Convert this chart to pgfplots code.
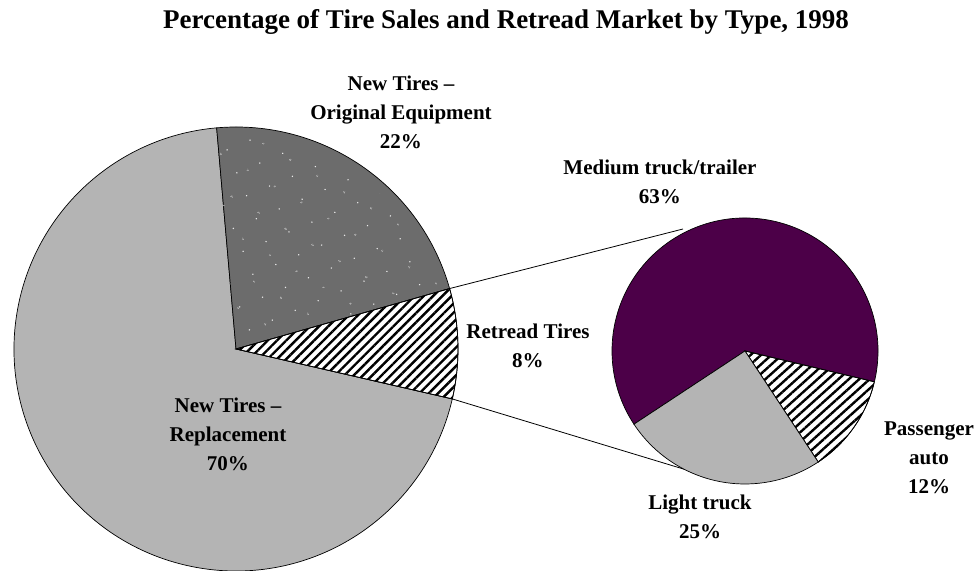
\documentclass[border=0pt]{standalone}
\usepackage{pgfplots}
\pgfplotsset{compat=1.18}
\usepackage{pgfplotstable}
\usetikzlibrary{patterns.meta}
\usepackage{fontspec}
\setmainfont{Liberation Serif}

\definecolor{lgray}{RGB}{180,180,180}
\definecolor{dgray}{RGB}{108,108,108}
\definecolor{purp}{RGB}{76,0,72}

\pgfplotstableread{
name pct
OE 22
Retread 8
Replacement 70
}\tiresales
\pgfplotstableread{
name pct
Medium 63
Passenger 12
Light 25
}\retreadmkt

\begin{document}
\begin{tikzpicture}
\pgfplotstablegetelem{0}{pct}\of\tiresales \let\pOE\pgfplotsretval
\pgfplotstablegetelem{1}{pct}\of\tiresales \let\pRet\pgfplotsretval
\pgfplotstablegetelem{2}{pct}\of\tiresales \let\pRep\pgfplotsretval
\pgfplotstablegetelem{0}{pct}\of\retreadmkt \let\pMed\pgfplotsretval
\pgfplotstablegetelem{1}{pct}\of\retreadmkt \let\pPas\pgfplotsretval
\pgfplotstablegetelem{2}{pct}\of\retreadmkt \let\pLig\pgfplotsretval
% left pie angles (clockwise from the top)
\pgfmathsetmacro\aA{95}
\pgfmathsetmacro\aB{\aA-3.6*\pOE}
\pgfmathsetmacro\aC{\aB-3.6*\pRet}
\pgfmathsetmacro\aD{\aC-3.6*\pRep}
% right pie angles
\pgfmathsetmacro\bA{-13.4}
\pgfmathsetmacro\bB{\bA+3.6*\pMed}
\pgfmathsetmacro\bC{\bA-3.6*\pPas}
\pgfmathsetmacro\bD{\bC-3.6*\pLig}
\begin{axis}[
  width=980bp, height=571bp, scale only axis,
  xmin=0, xmax=980, ymin=0, ymax=571,
  enlargelimits=false, hide axis, clip=false,
]
% ---- left pie
\filldraw[fill=lgray, draw=black, line width=0.7pt]
  (axis cs:236,222) -- ++(\aC:222bp) arc[start angle=\aC, end angle=\aD, radius=222bp] -- cycle;
\filldraw[fill=dgray, draw=black, line width=0.7pt]
  (axis cs:236,222) -- ++(\aA:222bp) arc[start angle=\aA, end angle=\aB, radius=222bp] -- cycle;
\path[pattern={Dots[distance=25pt, radius=0.8pt, angle=23]}, pattern color=white!85!dgray]
  (axis cs:236,222) -- ++(\aA:212bp) arc[start angle=\aA, end angle=\aB, radius=212bp] -- cycle;
\path[pattern={Dots[distance=31pt, radius=0.8pt, angle=-31, xshift=9pt, yshift=5pt]}, pattern color=white!85!dgray]
  (axis cs:236,222) -- ++(\aA:212bp) arc[start angle=\aA, end angle=\aB, radius=212bp] -- cycle;
\filldraw[fill=white, draw=black, line width=0.7pt]
  (axis cs:236,222) -- ++(\aB:222bp) arc[start angle=\aB, end angle=\aC, radius=222bp] -- cycle;
\path[pattern={Lines[angle=45, distance=6.6pt, line width=2.4pt]}, pattern color=black]
  (axis cs:236,222) -- ++(\aB:222bp) arc[start angle=\aB, end angle=\aC, radius=222bp] -- cycle;
\draw[black, line width=0.7pt]
  (axis cs:236,222) -- ++(\aB:222bp) arc[start angle=\aB, end angle=\aC, radius=222bp] -- cycle;
% ---- connecting lines
\draw[black, line width=0.8pt] (axis cs:236,222) ++(\aB:222bp) -- (axis cs:683,342);
\draw[black, line width=0.8pt] (axis cs:236,222) ++(\aC:222bp) -- (axis cs:690,100);
% ---- right pie
\filldraw[fill=purp, draw=black, line width=0.7pt]
  (axis cs:745,220) -- ++(\bA:133bp) arc[start angle=\bA, end angle=\bB, radius=133bp] -- cycle;
\filldraw[fill=white, draw=black, line width=0.7pt]
  (axis cs:745,220) -- ++(\bA:133bp) arc[start angle=\bA, end angle=\bC, radius=133bp] -- cycle;
\path[pattern={Lines[angle=42, distance=7pt, line width=2.4pt]}, pattern color=black]
  (axis cs:745,220) -- ++(\bA:133bp) arc[start angle=\bA, end angle=\bC, radius=133bp] -- cycle;
\draw[black, line width=0.7pt]
  (axis cs:745,220) -- ++(\bA:133bp) arc[start angle=\bA, end angle=\bC, radius=133bp] -- cycle;
\filldraw[fill=lgray, draw=black, line width=0.7pt]
  (axis cs:745,220) -- ++(\bC:133bp) arc[start angle=\bC, end angle=\bD, radius=133bp] -- cycle;
% ---- labels
\tikzset{lbl/.style={align=center, inner sep=0pt, font=\fontsize{21bp}{29bp}\selectfont\bfseries}}
\node[font=\fontsize{27bp}{30bp}\selectfont\bfseries, inner sep=0pt] at (axis cs:506,549)
  {Percentage of Tire Sales and Retread Market by Type, 1998};
\node[lbl] at (axis cs:401,459) {New Tires --\\Original Equipment\\22\%};
\node[lbl] at (axis cs:660,389.5) {Medium truck/trailer\\63\%};
\node[lbl] at (axis cs:528,225.5) {Retread Tires\\8\%};
\node[lbl] at (axis cs:228,137) {New Tires --\\Replacement\\70\%};
\node[lbl] at (axis cs:929,113) {Passenger\\auto\\12\%};
\node[lbl] at (axis cs:700,54.5) {Light truck\\25\%};
\end{axis}
\pgfresetboundingbox
\useasboundingbox (0,0) rectangle (980bp,571bp);
\end{tikzpicture}
\end{document}
